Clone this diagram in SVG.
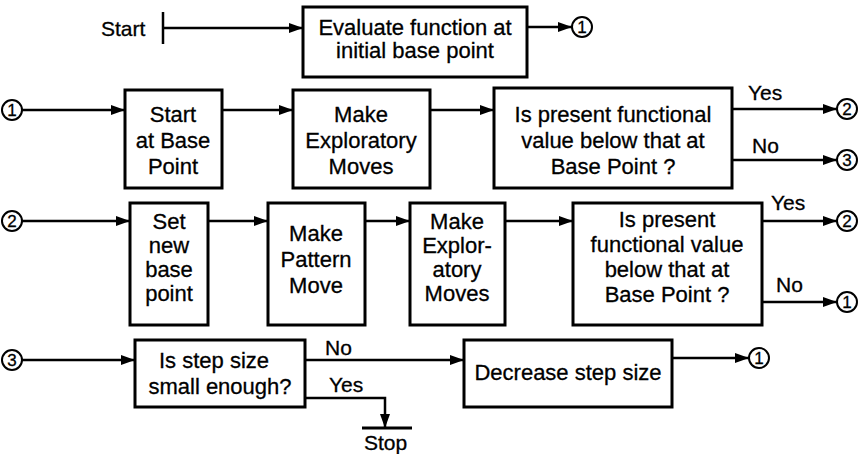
<svg xmlns="http://www.w3.org/2000/svg" width="864" height="454" viewBox="0 0 864 454">
  <defs>
    <marker id="arrow" markerUnits="userSpaceOnUse" markerWidth="15" markerHeight="11" refX="14" refY="5" orient="auto">
      <path d="M0,0 L14,5 L0,10 Z" fill="#000"/>
    </marker>
    <style>
      .box { fill: #fff; stroke: #000; stroke-width: 3; }
      .wire { fill: none; stroke: #000; stroke-width: 2.5; }
      .arr { fill: none; stroke: #000; stroke-width: 2.5; marker-end: url(#arrow); }
      .con { fill: #fff; stroke: #000; stroke-width: 2; }
      text { font-family: "Liberation Sans", Arial, sans-serif; fill: #000; stroke: #000; stroke-width: 0.3; }
      .t { font-size: 22px; text-anchor: middle; }
      .lbl { font-size: 21px; }
      .num { font-size: 17px; text-anchor: middle; }
    </style>
  </defs>

  <!-- connectors -->
  <g id="connectors">
    <!-- start -->
    <line class="wire" x1="163" y1="12" x2="163" y2="44"/>
    <line class="arr" x1="163" y1="28" x2="303" y2="28"/>
    <line class="arr" x1="527" y1="27" x2="572" y2="27"/>
    <!-- row 2 -->
    <line class="arr" x1="22" y1="110" x2="125" y2="110"/>
    <line class="arr" x1="222" y1="110" x2="293" y2="110"/>
    <line class="arr" x1="430" y1="110" x2="494" y2="110"/>
    <line class="arr" x1="732" y1="109" x2="837" y2="109"/>
    <line class="arr" x1="732" y1="160" x2="837" y2="160"/>
    <!-- row 3 -->
    <line class="arr" x1="22" y1="221" x2="130" y2="221"/>
    <line class="arr" x1="208" y1="221" x2="268" y2="221"/>
    <line class="arr" x1="365" y1="221" x2="410" y2="221"/>
    <line class="arr" x1="505" y1="221" x2="573" y2="221"/>
    <line class="arr" x1="762" y1="221" x2="837" y2="221"/>
    <line class="arr" x1="762" y1="302" x2="837" y2="302"/>
    <!-- row 4 -->
    <line class="arr" x1="22" y1="360" x2="135" y2="360"/>
    <line class="arr" x1="305" y1="360" x2="464" y2="360"/>
    <polyline class="arr" points="305,398 385,398 385,428"/>
    <line x1="362" y1="428" x2="412" y2="428" stroke="#000" stroke-width="3"/>
    <line class="arr" x1="672" y1="358" x2="749" y2="358"/>
  </g>

  <!-- branch labels -->
  <g id="labels">
    <text class="lbl" x="101" y="36">Start</text>
    <text class="lbl" x="748" y="100">Yes</text>
    <text class="lbl" x="752" y="153">No</text>
    <text class="lbl" x="771" y="210">Yes</text>
    <text class="lbl" x="776" y="292">No</text>
    <text class="lbl" x="325" y="355">No</text>
    <text class="lbl" x="329" y="392">Yes</text>
    <text class="lbl" x="364" y="450">Stop</text>
  </g>

  <!-- connector circles -->
  <g id="c-top-1"><circle class="con" cx="582" cy="27" r="10"/><text class="num" x="582" y="33">1</text></g>
  <g id="c-r2-in-1"><circle class="con" cx="12" cy="110" r="10"/><text class="num" x="12" y="116">1</text></g>
  <g id="c-r2-yes-2"><circle class="con" cx="847" cy="109" r="10"/><text class="num" x="847" y="115">2</text></g>
  <g id="c-r2-no-3"><circle class="con" cx="847" cy="160" r="10"/><text class="num" x="847" y="166">3</text></g>
  <g id="c-r3-in-2"><circle class="con" cx="12" cy="221" r="10"/><text class="num" x="12" y="227">2</text></g>
  <g id="c-r3-yes-2"><circle class="con" cx="847" cy="221" r="10"/><text class="num" x="847" y="227">2</text></g>
  <g id="c-r3-no-1"><circle class="con" cx="847" cy="302" r="10"/><text class="num" x="847" y="308">1</text></g>
  <g id="c-r4-in-3"><circle class="con" cx="12" cy="360" r="10"/><text class="num" x="12" y="366">3</text></g>
  <g id="c-r4-out-1"><circle class="con" cx="759" cy="358" r="10"/><text class="num" x="759" y="364">1</text></g>

  <!-- nodes -->
  <g id="evaluate">
    <rect class="box" x="303" y="7" width="224" height="70"/>
    <text class="t" x="415" y="35">Evaluate function at</text>
    <text class="t" x="415" y="58">initial base point</text>
  </g>

  <g id="start-base">
    <rect class="box" x="125" y="90" width="97" height="98"/>
    <text class="t" x="173" y="122">Start</text>
    <text class="t" x="173" y="148">at Base</text>
    <text class="t" x="173" y="174">Point</text>
  </g>

  <g id="explore-1">
    <rect class="box" x="293" y="90" width="137" height="98"/>
    <text class="t" x="361" y="122">Make</text>
    <text class="t" x="361" y="148">Exploratory</text>
    <text class="t" x="361" y="174">Moves</text>
  </g>

  <g id="test-1">
    <rect class="box" x="494" y="88" width="238" height="100"/>
    <text class="t" x="613" y="122">Is present functional</text>
    <text class="t" x="613" y="148">value below that at</text>
    <text class="t" x="613" y="174">Base Point ?</text>
  </g>

  <g id="set-base">
    <rect class="box" x="130" y="203" width="78" height="122"/>
    <text class="t" x="169" y="229">Set</text>
    <text class="t" x="169" y="253">new</text>
    <text class="t" x="169" y="277">base</text>
    <text class="t" x="169" y="301">point</text>
  </g>

  <g id="pattern">
    <rect class="box" x="268" y="203" width="97" height="122"/>
    <text class="t" x="316" y="241">Make</text>
    <text class="t" x="316" y="267">Pattern</text>
    <text class="t" x="316" y="293">Move</text>
  </g>

  <g id="explore-2">
    <rect class="box" x="410" y="203" width="95" height="122"/>
    <text class="t" x="457" y="229">Make</text>
    <text class="t" x="457" y="253">Explor-</text>
    <text class="t" x="457" y="277">atory</text>
    <text class="t" x="457" y="301">Moves</text>
  </g>

  <g id="test-2">
    <rect class="box" x="573" y="203" width="189" height="122"/>
    <text class="t" x="667" y="227">Is present</text>
    <text class="t" x="667" y="252">functional value</text>
    <text class="t" x="667" y="277">below that at</text>
    <text class="t" x="667" y="302">Base Point ?</text>
  </g>

  <g id="step-test">
    <rect class="box" x="135" y="340" width="170" height="67"/>
    <text class="t" x="214" y="368">Is step size</text>
    <text class="t" x="220" y="394">small enough?</text>
  </g>

  <g id="decrease">
    <rect class="box" x="464" y="340" width="208" height="67"/>
    <text class="t" x="568" y="380">Decrease step size</text>
  </g>
</svg>
